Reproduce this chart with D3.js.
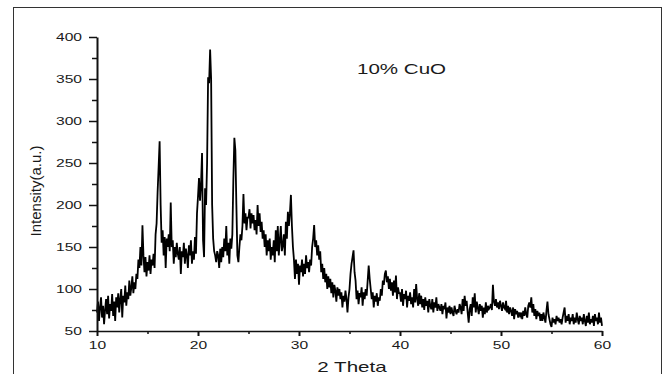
<!DOCTYPE html>
<html>
<head>
<meta charset="utf-8">
<script src="https://cdn.jsdelivr.net/npm/d3@7"></script>
<style>
  html, body { margin: 0; padding: 0; background: #fff; }
  svg { display: block; }
  text { font-family: "Liberation Sans", Arial, sans-serif; fill: #1a1a1a; }
</style>
</head>
<body>
<svg id="chart" width="669" height="374"></svg>
<script>
// ---- data ----
const xTickValues = [10, 20, 30, 40, 50, 60];
const yTickValues = [50, 100, 150, 200, 250, 300, 350, 400];
const xTitle = "2 Theta";
const yTitle = "Intensity(a.u.)";
const seriesLabel = "10% CuO";
const thetaStart = 10;      // degrees
const thetaStep = 0.1;      // sampling grid of the scan
// intensity, one row per degree (10.0 .. 60.0)
const intensity = [
  72, 85, 62, 78, 90, 66, 80, 58, 75, 88,
  70, 92, 65, 82, 74, 94, 68, 85, 62, 90,
  78, 95, 72, 88, 100, 66, 92, 84, 104, 80,
  96, 88, 110, 92, 102, 115, 95, 108, 100, 118,
  112, 135, 125, 150, 128, 176, 140, 120, 138, 115,
  132, 122, 140, 118, 135, 128, 142, 125, 165, 178,
  215, 245, 276, 200, 155, 170, 140, 162, 125, 160,
  150, 165, 145, 203, 150, 158, 130, 150, 138, 155,
  142, 135, 150, 118, 145, 138, 155, 130, 148, 140,
  125, 152, 140, 158, 130, 145, 135, 162, 142, 190,
  210, 232, 205, 225, 262, 158, 138, 220, 200, 250,
  352, 345, 385, 350, 200, 160, 145, 140, 132, 145,
  140, 125, 148, 132, 150, 138, 160, 145, 175, 140,
  155, 130, 160, 148, 165, 230, 280, 265, 200, 140,
  132, 150, 165, 158, 175, 213, 178, 190, 170, 185,
  185, 195, 172, 190, 178, 188, 170, 182, 165, 200,
  175, 190, 168, 180, 160, 170, 150, 165, 140, 158,
  145, 160, 135, 150, 140, 158, 132, 170, 145, 175,
  140, 158, 175, 145, 152, 165, 140, 180, 160, 192,
  175, 190, 212, 175, 150, 135, 112, 135, 118, 130,
  105, 128, 120, 135, 115, 130, 118, 140, 125, 132,
  120, 135, 128, 150, 160, 176, 150, 158, 140, 152,
  135, 145, 120, 130, 112, 125, 108, 118, 100, 115,
  102, 112, 95, 108, 90, 105, 98, 85, 102, 92,
  100, 88, 96, 78, 92, 85, 98, 88, 72, 90,
  100, 118, 130, 138, 146, 120, 110, 88, 98, 82,
  95, 90, 102, 80, 96, 88, 100, 92, 110, 128,
  112, 100, 88, 96, 78, 92, 85, 95, 80, 90,
  86, 100, 92, 110, 105, 118, 122, 108, 115, 100,
  112, 98, 108, 92, 110, 96, 116, 88, 102, 95,
  95, 85, 100, 80, 94, 88, 98, 78, 92, 86,
  96, 82, 90, 78, 100, 84, 106, 88, 80, 95,
  82, 92, 78, 88, 75, 90, 80, 86, 72, 88,
  80, 76, 88, 72, 84, 78, 90, 74, 82, 78,
  74, 82, 70, 80, 76, 84, 65, 78, 72, 80,
  70, 78, 72, 68, 80, 74, 70, 76, 72, 82,
  78, 70, 88, 74, 92, 80, 86, 72, 60, 76,
  82, 68, 90, 78, 95, 72, 85, 78, 70, 82,
  74, 80, 66, 78, 70, 84, 72, 80, 76, 78,
  82, 75, 105, 85, 80, 88, 78, 84, 76, 86,
  80, 74, 84, 78, 76, 86, 72, 80, 70, 78,
  74, 68, 78, 64, 76, 70, 74, 66, 72, 68,
  72, 64, 74, 68, 78, 70, 66, 80, 84, 78,
  90, 72, 82, 68, 76, 64, 74, 68, 72, 62,
  70, 62, 72, 66, 60, 74, 85, 70, 64, 58,
  55, 66, 60, 64, 58, 68, 62, 66, 60, 64,
  58, 66, 72, 78, 60, 68, 62, 70, 58, 66,
  62, 70, 58, 66, 60, 72, 64, 58, 68, 62,
  66, 58, 70, 62, 56, 68, 60, 72, 58, 64,
  60, 68, 56, 70, 62, 66, 58, 72, 60, 66,
  56
];

// ---- drawing ----
const svg = d3.select("#chart");
svg.append("rect").attr("width", 669).attr("height", 374).attr("fill", "#fff");

// outer frame
svg.append("rect")
  .attr("x", 13.5).attr("y", 7.5).attr("width", 648).attr("height", 400)
  .attr("fill", "none").attr("stroke", "#333").attr("stroke-width", 1);

const x = d3.scaleLinear().domain([10, 60]).range([97, 602]);
const y = d3.scaleLinear().domain([50, 400]).range([331, 37]);

const points = intensity.map((v, i) => [thetaStart + i * thetaStep, v]);

const line = d3.line().x(d => x(d[0])).y(d => y(d[1]));
svg.append("path")
  .datum(points)
  .attr("fill", "none")
  .attr("stroke", "#000")
  .attr("stroke-width", 1.8)
  .attr("stroke-linejoin", "miter")
  .attr("d", line);

// minor ticks
const gxMinor = svg.append("g").attr("transform", "translate(0,331)")
  .call(d3.axisBottom(x).tickValues([15, 25, 35, 45, 55]).tickSize(3).tickFormat(""));
const gyMinor = svg.append("g").attr("transform", "translate(97,0)")
  .call(d3.axisLeft(y).tickValues([75, 125, 175, 225, 275, 325, 375]).tickSize(5).tickFormat(""));
[gxMinor, gyMinor].forEach(g => {
  g.select(".domain").remove();
  g.selectAll("line").attr("stroke", "#111").attr("stroke-width", 1.5);
});

// major axes
const gx = svg.append("g").attr("transform", "translate(0,331)")
  .call(d3.axisBottom(x).tickValues(xTickValues).tickSize(5).tickSizeOuter(0));
const gy = svg.append("g").attr("transform", "translate(97,0)")
  .call(d3.axisLeft(y).tickValues(yTickValues).tickSize(8).tickSizeOuter(0));

gx.select(".domain").attr("stroke", "#111").attr("stroke-width", 1.5);
gy.select(".domain").attr("stroke", "#111").attr("stroke-width", 2);
gx.selectAll(".tick line").attr("stroke", "#111").attr("stroke-width", 2);
gy.selectAll(".tick line").attr("stroke", "#111").attr("stroke-width", 1.5);

gx.selectAll(".tick text")
  .attr("y", 0).attr("dy", 0)
  .attr("transform", "translate(0,18) scale(1.42,1)")
  .attr("text-anchor", "middle")
  .style("font-size", "11px").style("fill", "#1a1a1a")
  .style("font-family", "'Liberation Sans', Arial, sans-serif");

gy.selectAll(".tick text")
  .attr("x", 0).attr("dy", "0.35em")
  .attr("transform", "translate(-15,0) scale(1.42,1)")
  .attr("text-anchor", "end")
  .style("font-size", "11px").style("fill", "#1a1a1a")
  .style("font-family", "'Liberation Sans', Arial, sans-serif");

// titles
svg.append("text")
  .attr("transform", "translate(352,372) scale(1.37,1)")
  .attr("text-anchor", "middle")
  .style("font-size", "15px")
  .text(xTitle);

svg.append("text")
  .attr("transform", "translate(41,191) rotate(-90)")
  .attr("text-anchor", "middle")
  .style("font-size", "15px")
  .text(yTitle);

svg.append("text")
  .attr("transform", "translate(357,74) scale(1.37,1)")
  .attr("text-anchor", "start")
  .style("font-size", "15px")
  .text(seriesLabel);
</script>
</body>
</html>
